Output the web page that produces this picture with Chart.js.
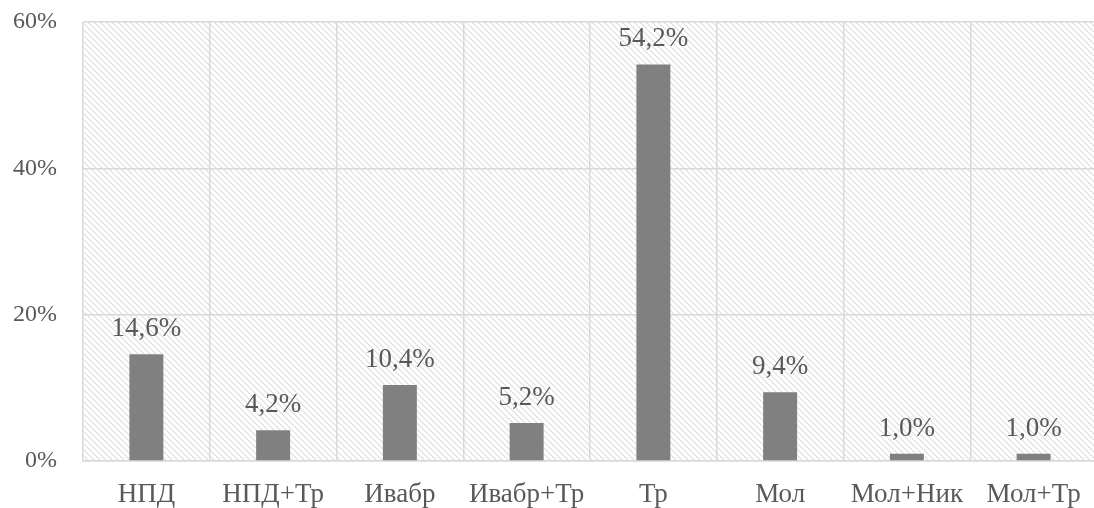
<!DOCTYPE html>
<html>
<head>
<meta charset="utf-8">
<script src="https://cdn.jsdelivr.net/npm/chart.js@4.4.1/dist/chart.umd.min.js"></script>
<style>
  html, body { margin: 0; padding: 0; background: #ffffff; overflow: hidden; }
  #wrap { width: 1100px; height: 508px; }
</style>
</head>
<body>
<div id="wrap"><canvas id="chart"></canvas></div>
<script>
// Category names (x axis)
const categories = ['НПД', 'НПД+Тр', 'Ивабр', 'Ивабр+Тр', 'Тр', 'Мол', 'Мол+Ник', 'Мол+Тр'];
// Share of patients per group, percent
const shares = [14.6, 4.2, 10.4, 5.2, 54.2, 9.4, 1.0, 1.0];
// Y axis ticks, percent
const yTicks = [0, 20, 40, 60];

const FONT = '"Liberation Serif", "Times New Roman", serif';
const TEXT = '#595959';

// Diagonal hatch used as plot-area fill
function makeHatch(ctx) {
  const p = 6;
  const c = document.createElement('canvas');
  c.width = p; c.height = p;
  const g = c.getContext('2d');
  g.fillStyle = '#ffffff';
  g.fillRect(0, 0, p, p);
  g.strokeStyle = '#dcdcdc';
  g.lineWidth = 1.1;
  for (let o = -p; o <= p; o += p) {
    g.beginPath();
    g.moveTo(o, 0);
    g.lineTo(o + p, p);
    g.stroke();
  }
  return ctx.createPattern(c, 'repeat');
}

const hatchBackground = {
  id: 'hatchBackground',
  beforeDraw(chart) {
    const { ctx, chartArea: a } = chart;
    ctx.save();
    ctx.fillStyle = makeHatch(ctx);
    ctx.fillRect(a.left, a.top, a.right - a.left, a.bottom - a.top);
    ctx.restore();
  }
};

const valueLabels = {
  id: 'valueLabels',
  afterDatasetsDraw(chart) {
    const { ctx } = chart;
    const meta = chart.getDatasetMeta(0);
    ctx.save();
    ctx.font = '27px ' + FONT;
    ctx.fillStyle = TEXT;
    ctx.textAlign = 'center';
    ctx.textBaseline = 'alphabetic';
    meta.data.forEach((bar, i) => {
      const txt = shares[i].toFixed(1).replace('.', ',') + '%';
      ctx.fillText(txt, bar.x, bar.y - 18);
    });
    ctx.restore();
  }
};

new Chart(document.getElementById('chart'), {
  type: 'bar',
  data: {
    labels: categories,
    datasets: [{
      data: shares,
      backgroundColor: '#808080',
      borderWidth: 0,
      categoryPercentage: 1,
      barPercentage: 0.268
    }]
  },
  options: {
    responsive: true,
    maintainAspectRatio: false,
    animation: false,
    devicePixelRatio: 1,
    layout: { padding: { top: 22, right: 3, left: 0, bottom: 0 } },
    plugins: { legend: { display: false }, tooltip: { enabled: false } },
    scales: {
      x: {
        grid: { color: '#d9d9d9', lineWidth: 1.5, drawTicks: false, offset: true },
        border: { color: '#d9d9d9', width: 1.5 },
        ticks: { color: TEXT, font: { family: FONT, size: 27 }, padding: 18, maxRotation: 0, autoSkip: false },
        afterFit(s) { s.height = 47; s.paddingLeft = 0; s.paddingRight = 0; }
      },
      y: {
        min: 0, max: 60,
        afterBuildTicks(s) { s.ticks = yTicks.map(v => ({ value: v })); },
        grid: { color: '#d9d9d9', lineWidth: 1.5, drawTicks: false },
        border: { display: false },
        ticks: {
          color: TEXT, font: { family: FONT, size: 24 }, padding: 26,
          callback: v => v + '%'
        },
        afterFit(s) { s.width = 83; s.paddingTop = 0; s.paddingBottom = 0; }
      }
    }
  },
  plugins: [hatchBackground, valueLabels]
});
</script>
</body>
</html>
